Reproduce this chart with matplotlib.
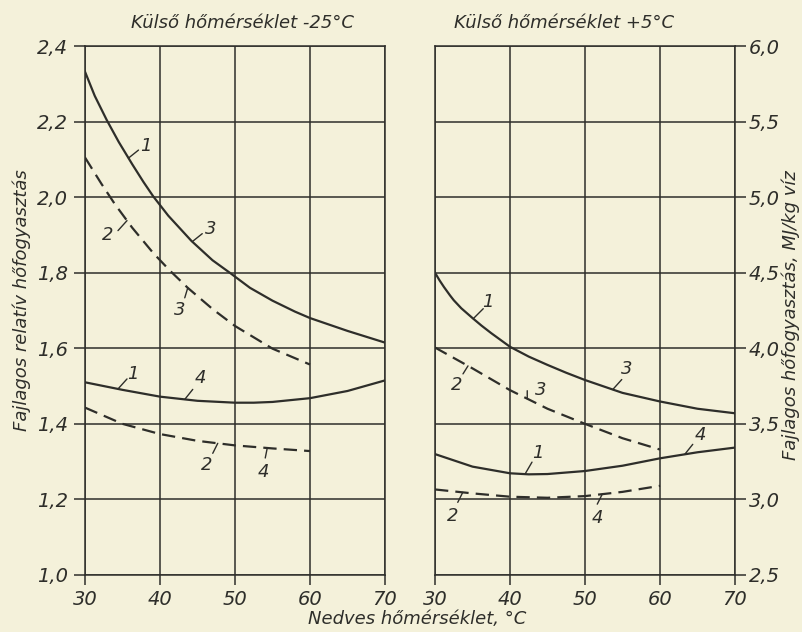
import numpy as np
import matplotlib
matplotlib.use("Agg")
import matplotlib.pyplot as plt

# ---------------- data ----------------
x_ticks = [30, 40, 50, 60, 70]
x_tick_labels = ["30", "40", "50", "60", "70"]

left_y_ticks = [1.0, 1.2, 1.4, 1.6, 1.8, 2.0, 2.2, 2.4]
left_y_labels = ["1,0", "1,2", "1,4", "1,6", "1,8", "2,0", "2,2", "2,4"]
right_y_ticks = [2.5, 3.0, 3.5, 4.0, 4.5, 5.0, 5.5, 6.0]
right_y_labels = ["2,5", "3,0", "3,5", "4,0", "4,5", "5,0", "5,5", "6,0"]

# Outside temperature -25 °C (relative specific heat consumption)
l13_x = [30, 31.3, 32.9, 34.5, 36.3, 37.8, 39.1, 41.1, 44.2, 47, 49.3, 52, 55, 58, 60, 65, 70]
l13_y = [2.332, 2.268, 2.204, 2.146, 2.087, 2.04, 2.002, 1.951, 1.884, 1.833, 1.8, 1.76,
         1.726, 1.697, 1.68, 1.646, 1.615]
l23_x = [30, 32.2, 34, 36.3, 39.1, 41.3, 43.7, 47, 50, 55, 60]
l23_y = [2.105, 2.035, 1.981, 1.919, 1.852, 1.806, 1.760, 1.704, 1.659, 1.599, 1.557]
l14_x = [30, 35, 40, 45, 50, 52.5, 55, 60, 65, 70]
l14_y = [1.51, 1.49, 1.472, 1.461, 1.456, 1.456, 1.458, 1.468, 1.487, 1.515]
l24_x = [30, 35, 40, 45, 50, 55, 60]
l24_y = [1.443, 1.40, 1.373, 1.355, 1.343, 1.335, 1.328]

# Outside temperature +5 °C (specific heat consumption, MJ/kg water)
r13_x = [30, 30.6, 31.2, 32, 32.5, 33.5, 35, 36.2, 37.5, 40, 42.5, 45, 47.5, 50, 55, 60, 65, 70]
r13_y = [4.50, 4.45, 4.405, 4.35, 4.318, 4.265, 4.20, 4.15, 4.10, 4.01, 3.945, 3.89,
         3.838, 3.79, 3.705, 3.648, 3.60, 3.57]
r23_x = [30, 35, 40, 45, 50, 55, 60]
r23_y = [4.005, 3.867, 3.723, 3.60, 3.50, 3.405, 3.33]
r14_x = [30, 35, 40, 42.5, 45, 50, 55, 60, 65, 70]
r14_y = [3.30, 3.217, 3.173, 3.166, 3.168, 3.188, 3.223, 3.272, 3.312, 3.343]
r24_x = [30, 35, 40, 45, 50, 55, 60]
r24_y = [3.066, 3.04, 3.018, 3.011, 3.022, 3.05, 3.09]

title_left = "Külső hőmérséklet -25°C"
title_right = "Külső hőmérséklet +5°C"
xlabel = "Nedves hőmérséklet, °C"
ylabel_left = "Fajlagos relatív hőfogyasztás"
ylabel_right = "Fajlagos hőfogyasztás, MJ/kg víz"

# ---------------- style ----------------
BG = "#f4f1da"
INK = "#2e2e2a"
FONT = dict(family="DejaVu Sans", style="oblique", color=INK)

W, H = 802, 632
fig = plt.figure(figsize=(W / 100, H / 100), dpi=100, facecolor=BG)

def px_axes(l, t, r, b):
    return [l / W, 1 - b / H, (r - l) / W, (b - t) / H]

ax1 = fig.add_axes(px_axes(85, 46, 385, 575))
ax2 = fig.add_axes(px_axes(435, 46, 735, 575))

for ax, yt, yl, ylim in [(ax1, left_y_ticks, left_y_labels, (1.0, 2.4)),
                         (ax2, right_y_ticks, right_y_labels, (2.5, 6.0))]:
    ax.set_facecolor(BG)
    ax.set_xlim(30, 70)
    ax.set_ylim(*ylim)
    ax.set_xticks(x_ticks)
    ax.set_xticklabels(x_tick_labels, fontsize=14, **FONT)
    ax.set_yticks(yt)
    ax.set_yticklabels(yl, fontsize=14, **FONT)
    ax.grid(True, color=INK, lw=1.1)
    for s in ax.spines.values():
        s.set_color(INK)
        s.set_linewidth(1.1)
    ax.tick_params(axis="both", color=INK, width=1.1, length=7, direction="out")
    ax.tick_params(axis="x", pad=4)

ax1.tick_params(axis="y", length=8, pad=4)
ax2.yaxis.tick_right()
ax2.tick_params(axis="y", length=8, pad=2)

LW = 1.6
def solid(ax, x, y):
    ax.plot(x, y, color=INK, lw=LW, solid_joinstyle="round", zorder=3)

def dashed(ax, x, y):
    ln, = ax.plot(x, y, color=INK, lw=LW, zorder=3)
    ln.set_dashes((6, 3.2))

solid(ax1, l13_x, l13_y)
dashed(ax1, l23_x, l23_y)
solid(ax1, l14_x, l14_y)
dashed(ax1, l24_x, l24_y)
solid(ax2, r13_x, r13_y)
dashed(ax2, r23_x, r23_y)
solid(ax2, r14_x, r14_y)
dashed(ax2, r24_x, r24_y)

def label(ax, text, xs, ys, xc, end, txt):
    """Curve label: leader from the curve point (xc) to `end` (pixel offset),
    text centred at `txt` (pixel offset)."""
    yc = float(np.interp(xc, xs, ys))
    ax.annotate("", xy=(xc, yc), xytext=end, textcoords="offset pixels",
                arrowprops=dict(arrowstyle="-", color=INK, lw=1.0,
                                shrinkA=0, shrinkB=0), zorder=4)
    ax.annotate(text, xy=(xc, yc), xytext=txt, textcoords="offset pixels",
                fontsize=13, ha="center", va="center", zorder=4, **FONT)

# left panel curve labels
label(ax1, "1", l13_x, l13_y, 35.8, (10, 8), (17, 12))
label(ax1, "3", l13_x, l13_y, 44.3, (10, 8), (18, 13))
label(ax1, "2", l23_x, l23_y, 35.6, (-9, -10), (-19, -14))
label(ax1, "3", l23_x, l23_y, 43.7, (-3, -10), (-8, -22))
label(ax1, "1", l14_x, l14_y, 34.4, (9, 10), (15, 15))
label(ax1, "4", l14_x, l14_y, 43.3, (8, 10), (16, 21))
label(ax1, "2", l24_x, l24_y, 47.7, (-5, -10), (-11, -22))
label(ax1, "4", l24_x, l24_y, 54.3, (-2, -10), (-4, -24))

# right panel curve labels
label(ax2, "1", r13_x, r13_y, 35.1, (10, 10), (15, 17))
label(ax2, "3", r13_x, r13_y, 53.7, (9, 10), (14, 21))
label(ax2, "2", r23_x, r23_y, 34.4, (-5, -8), (-11, -19))
label(ax2, "3", r23_x, r23_y, 42.3, (0, 8), (13, 9))
label(ax2, "1", r14_x, r14_y, 42.0, (7, 12), (13, 21))
label(ax2, "4", r14_x, r14_y, 63.3, (8, 10), (16, 19))
label(ax2, "2", r24_x, r24_y, 33.7, (-5, -10), (-10, -24))
label(ax2, "4", r24_x, r24_y, 52.3, (-5, -10), (-5, -24))

# titles and axis labels
fig.text(242 / W, 1 - 23 / H, title_left, fontsize=13, ha="center", va="center", **FONT)
fig.text(564 / W, 1 - 23 / H, title_right, fontsize=13, ha="center", va="center", **FONT)
fig.text(417 / W, 1 - 619 / H, xlabel, fontsize=13, ha="center", va="center", **FONT)
fig.text(22 / W, 1 - 300 / H, ylabel_left, fontsize=13, rotation=90,
         ha="center", va="center", **FONT)
fig.text(791 / W, 1 - 315 / H, ylabel_right, fontsize=13, rotation=90,
         ha="center", va="center", **FONT)

fig.savefig("out.png", dpi=100, facecolor=BG)
